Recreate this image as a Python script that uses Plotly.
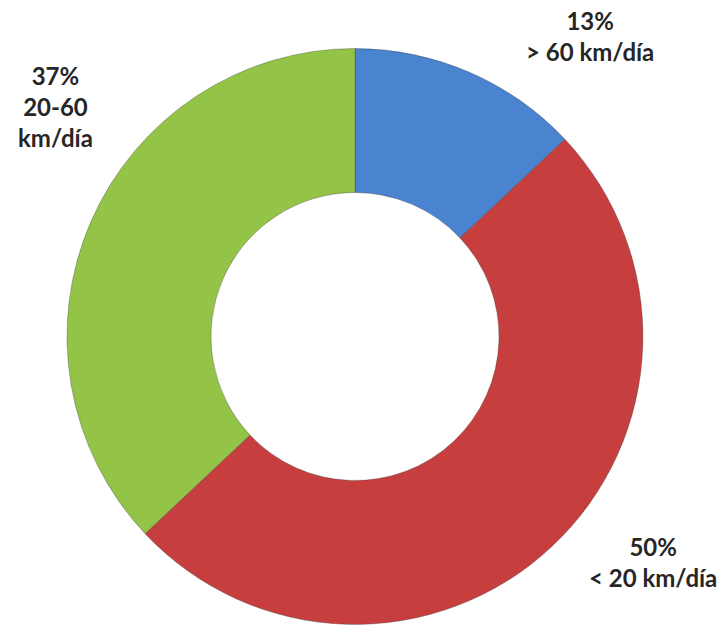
import plotly.graph_objects as go

categories = ["> 60 km/día", "< 20 km/día", "20-60 km/día"]
values = [13, 50, 37]
colors = ["#4A83CF", "#C63E3D", "#93C447"]
label_texts = ["13%<br>> 60 km/día", "50%<br>< 20 km/día", "37%<br>20-60<br>km/día"]
label_pos = [(590, 36), (653, 562), (55, 106)]

W, H = 724, 633

fig = go.Figure(go.Pie(
    labels=categories,
    values=values,
    hole=0.5,
    sort=False,
    direction="clockwise",
    rotation=0,
    marker=dict(colors=colors, line=dict(color="rgba(60,60,60,0.35)", width=1)),
    textinfo="none",
    hoverinfo="label+percent",
    showlegend=False,
    domain=dict(x=[67 / W, 643 / W], y=[1 - 625 / H, 1 - 48 / H]),
))

for txt, (x, y) in zip(label_texts, label_pos):
    fig.add_annotation(
        x=x / W, y=1 - y / H, xref="paper", yref="paper",
        text=txt, showarrow=False, align="center",
        xanchor="center", yanchor="middle",
        font=dict(family="Lato", size=24, color="#262626", weight="bold"),
    )

fig.update_layout(
    width=W, height=H,
    margin=dict(l=0, r=0, t=0, b=0),
    paper_bgcolor="white", plot_bgcolor="white",
)

fig.write_html(
    "out.html",
    config={"displayModeBar": False},
    post_script="document.body.style.margin='0';document.body.style.overflow='hidden';",
)
